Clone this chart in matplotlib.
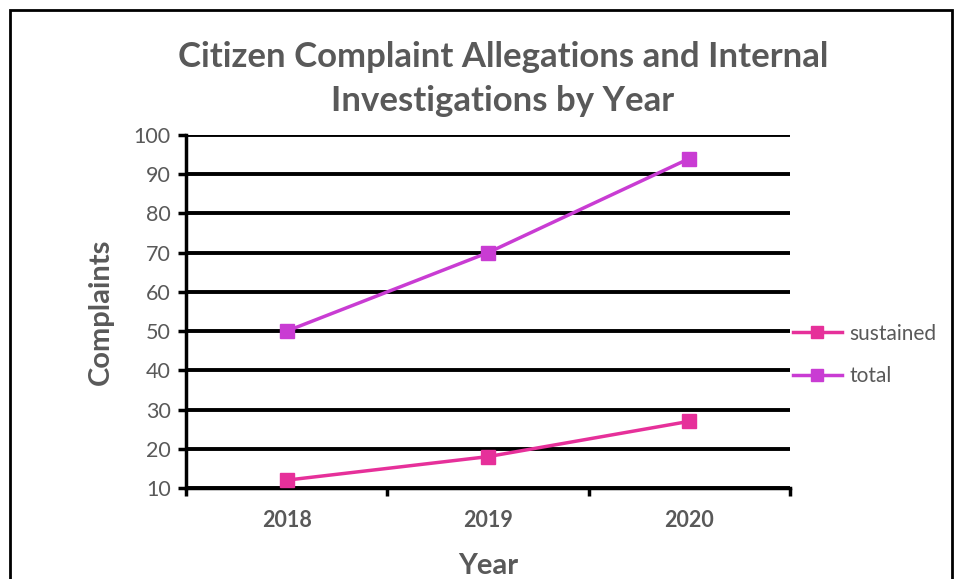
import matplotlib
matplotlib.use("Agg")
import matplotlib.pyplot as plt
from matplotlib.patches import Rectangle

years = ["2018", "2019", "2020"]
sustained = [12, 18, 27]
total = [50, 70, 94]
yticks = [10, 20, 30, 40, 50, 60, 70, 80, 90, 100]

GRAY = "#595959"
C_SUS = "#E6309A"
C_TOT = "#C93CD3"
plt.rcParams['font.family'] = ['Lato', 'DejaVu Sans']

fig = plt.figure(figsize=(9.59, 5.79), dpi=100)
fig.patch.set_facecolor("white")
fig.patches.append(Rectangle((10/959, -0.05), 942/959, 1.05 - 10/579, transform=fig.transFigure,
                             fill=False, edgecolor="black", linewidth=2))

ax = fig.add_axes([186/959, 1-488/579, 604/959, 353/579])
x = list(range(len(years)))
ax.plot(x, sustained, color=C_SUS, lw=2.5, marker="s", ms=10, label="sustained", zorder=5)
ax.plot(x, total, color=C_TOT, lw=2.5, marker="s", ms=10, label="total", zorder=5)

ax.set_xlim(-0.5, 2.5)
ax.set_ylim(10, 100)
ax.set_yticks(yticks)
ax.set_yticklabels([str(v) for v in yticks], color=GRAY, fontsize=15.5)
ax.set_xticks(x)
ax.set_xticklabels(years, color=GRAY, fontsize=15.5, fontweight="bold")
ax.set_xticks([-0.5, 0.5, 1.5, 2.5], minor=True)
ax.tick_params(axis="x", which="major", length=0, pad=16)
ax.tick_params(axis="x", which="minor", length=6, width=2.5, direction="out", color="black")
ax.tick_params(axis="y", length=6, width=2.5, color="black", pad=5)

for v in yticks:
    ax.axhline(v, color="black", lw=2.8, zorder=1)
for s in ["top", "right"]:
    ax.spines[s].set_visible(False)
ax.spines["left"].set_linewidth(2.5)
ax.spines["bottom"].set_linewidth(2.5)

ax.set_xlabel("Year", color=GRAY, fontsize=21, fontweight="bold", labelpad=16)
ax.set_ylabel("Complaints", color=GRAY, fontsize=21, fontweight="bold", labelpad=14)

fig.text(503/959, 1-57/579, "Citizen Complaint Allegations and Internal", ha="center", va="center",
         color=GRAY, fontsize=25, fontweight="bold")
fig.text(503/959, 1-101/579, "Investigations by Year", ha="center", va="center",
         color=GRAY, fontsize=25, fontweight="bold")

leg = ax.legend(loc="center left", bbox_to_anchor=(793/959, 1-355/579), bbox_transform=fig.transFigure,
                frameon=False, fontsize=15, handlelength=2.35, handletextpad=0.35, labelspacing=1.1,
                borderpad=0, borderaxespad=0, markerscale=0.85, labelcolor=GRAY)

fig.savefig("out.png", dpi=100, facecolor="white")
